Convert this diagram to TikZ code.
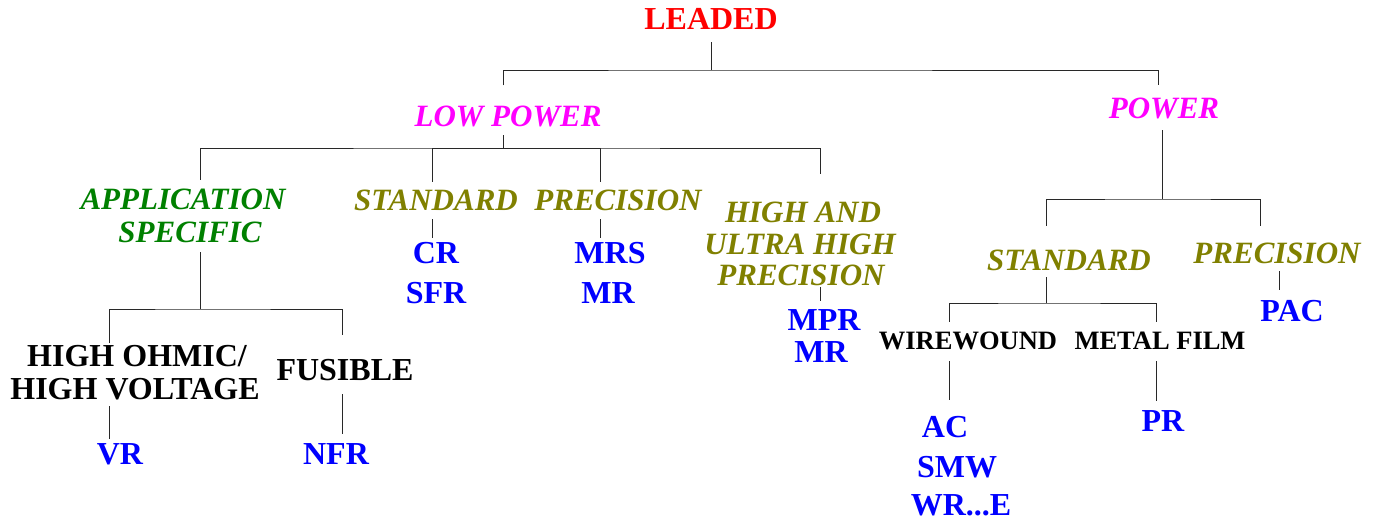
\documentclass[tikz,border=0pt]{standalone}
\usepackage{fontspec}
\setmainfont{Liberation Serif}
\definecolor{cred}{RGB}{255,0,0}
\definecolor{cmag}{RGB}{255,0,255}
\definecolor{cgrn}{RGB}{0,128,0}
\definecolor{colv}{RGB}{128,128,0}
\definecolor{cblu}{RGB}{0,0,255}
\definecolor{cline}{RGB}{40,40,40}
\tikzset{
  lbl/.style={anchor=base, inner sep=0pt, outer sep=0pt},
  big/.style={lbl, font=\fontsize{32}{36}\selectfont\bfseries},
  ital/.style={lbl, font=\fontsize{31}{36}\selectfont\bfseries\itshape},
  small/.style={lbl, font=\fontsize{26.5}{30}\selectfont\bfseries},
  conn/.style={draw=cline, line width=0.9pt},
}
\begin{document}
\begin{tikzpicture}[x=1pt, y=-1pt]
\useasboundingbox (0,0) rectangle (1376,519);
% level 0
\node[big, text=cred] (leaded) at (711,30) {LEADED};
% level 1
\node[ital, text=cmag] (lowpower) at (508,126) {LOW POWER};
\node[ital, text=cmag] (power) at (1164,118) {POWER};
% low power children
\node[ital, text=cgrn] (app1) at (183,209) {APPLICATION};
\node[ital, text=cgrn] (app2) at (190,242) {SPECIFIC};
\node[ital, text=colv] (stdlp) at (436,210) {STANDARD};
\node[ital, text=colv] (preclp) at (618,210) {PRECISION};
\node[ital, text=colv] (hau1) at (803,222) {HIGH AND};
\node[ital, text=colv] (hau2) at (800,254) {ULTRA HIGH};
\node[ital, text=colv] (hau3) at (801,285) {PRECISION};
\node[big, text=cblu] (cr) at (436,263) {CR};
\node[big, text=cblu] (sfr) at (436,303) {SFR};
\node[big, text=cblu] (mrs) at (610,263) {MRS};
\node[big, text=cblu] (mra) at (608,303) {MR};
\node[big, text=cblu] (mpr) at (824,330) {MPR};
\node[big, text=cblu] (mrb) at (821,362) {MR};
% application specific children
\node[big] (hohm1) at (137,366) {HIGH OHMIC/};
\node[big] (hohm2) at (135,399) {HIGH VOLTAGE};
\node[big] (fusible) at (345,380) {FUSIBLE};
\node[big, text=cblu] (vr) at (120,464) {VR};
\node[big, text=cblu] (nfr) at (336,464) {NFR};
% power children
\node[ital, text=colv] (stdp) at (1069,270) {STANDARD};
\node[ital, text=colv] (precp) at (1277,263) {PRECISION};
\node[big, text=cblu] (pac) at (1292,321) {PAC};
\node[small] (ww) at (968,349) {WIREWOUND};
\node[small] (mf) at (1160,349) {METAL FILM};
\node[big, text=cblu] (ac) at (945,437) {AC};
\node[big, text=cblu] (smw) at (957,477) {SMW};
\node[big, text=cblu] (wre) at (961,515) {WR...E};
\node[big, text=cblu] (pr) at (1163,431) {PR};
% junctions
\coordinate (j1) at (711,70);
\coordinate (j2) at (503,148);
\coordinate (j3) at (1162,199);
\coordinate (j4) at (200,309);
\coordinate (j5) at (1046,303);
% connectors
\draw[conn, shorten <=12] (leaded.south) -- (j1);
\draw[conn, shorten <=20, shorten >=12.5] ([xshift=-5]lowpower.north) |- (j1) -| ([xshift=-6]power.north);
\draw[conn, shorten <=9] ([xshift=-5]lowpower.south) -- (j2);
\draw[conn, shorten <=8.5, shorten >=27.5] ([xshift=17]app1.north) |- (j2) -| ([xshift=17]hau1.north);
\draw[conn, shorten <=7.5] ([xshift=-4]stdlp.north) |- (j2);
\draw[conn, shorten <=7.5] ([xshift=-18]preclp.north) |- (j2);
\draw[conn, shorten <=9, shorten >=3.4] ([xshift=-4]stdlp.south) -- ([xshift=-4]cr.north);
\draw[conn, shorten <=9, shorten >=3.4] ([xshift=-18]preclp.south) -- ([xshift=-10]mrs.north);
\draw[conn, shorten <=2, shorten >=8] ([xshift=19]hau3.south) -- ([xshift=-4]mpr.north);
\draw[conn, shorten <=10] ([xshift=10]app2.south) -- (j4);
\draw[conn, shorten <=1.5, shorten >=23.4] ([xshift=-28]hohm1.north) |- (j4) -| ([xshift=-3]fusible.north);
\draw[conn, shorten <=7, shorten >=4.4] ([xshift=-26]hohm2.south) -- ([xshift=-11]vr.north);
\draw[conn, shorten <=14, shorten >=9.4] ([xshift=-3]fusible.south) -- ([xshift=6]nfr.north);
\draw[conn, shorten <=12] ([xshift=-2]power.south) -- (j3);
\draw[conn, shorten <=23.5, shorten >=16.5] ([xshift=-23]stdp.north) |- (j3) -| ([xshift=-17]precp.north);
\draw[conn, shorten <=7] ([xshift=-23]stdp.south) -- (j5);
\draw[conn, shorten <=9.5, shorten >=9.5] ([xshift=-19]ww.north) |- (j5) -| ([xshift=-4]mf.north);
\draw[conn, shorten <=8, shorten >=9.4] ([xshift=2]precp.south) -- ([xshift=-13]pac.north);
\draw[conn, shorten <=12, shorten >=15.4] ([xshift=-19]ww.south) -- ([xshift=4]ac.north);
\draw[conn, shorten <=12, shorten >=9.4] ([xshift=-4]mf.south) -- ([xshift=-7]pr.north);
\end{tikzpicture}
\end{document}
